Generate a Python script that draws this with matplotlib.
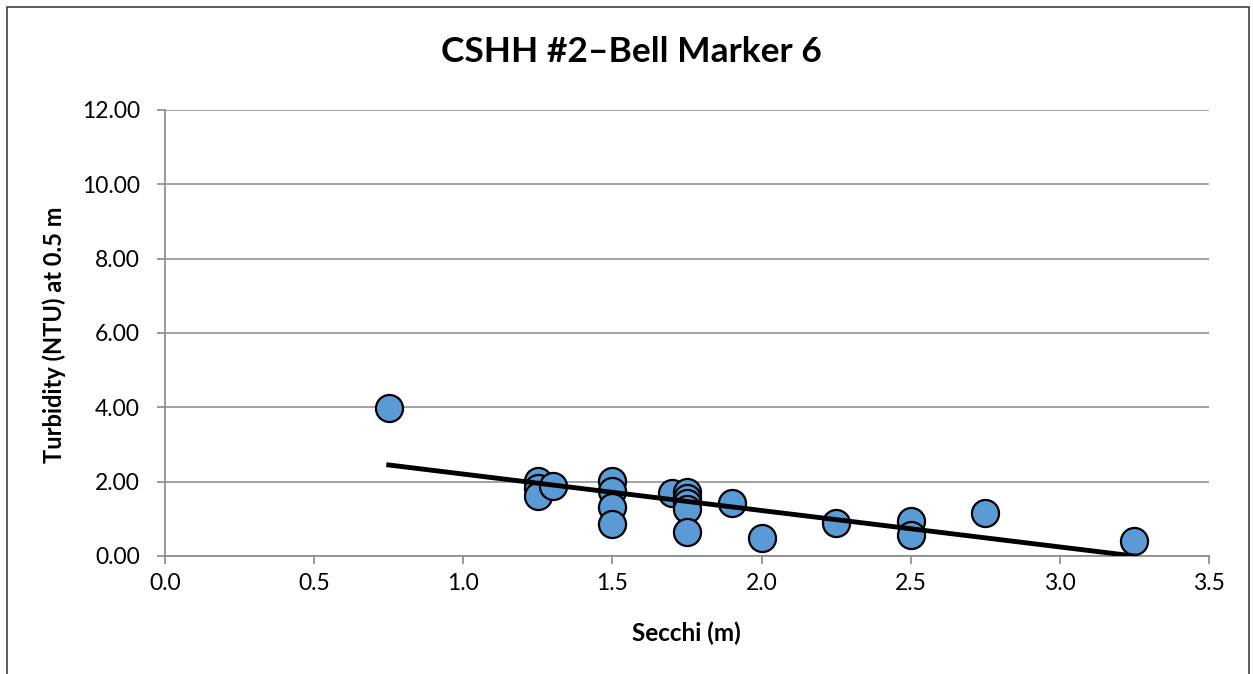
import numpy as np
import matplotlib
matplotlib.use('Agg')
import matplotlib.pyplot as plt
from matplotlib.patches import Rectangle

plt.rcParams['font.family'] = ['Lato', 'DejaVu Sans']

# Secchi depth (m) and turbidity (NTU)
secchi = [0.75, 1.25, 1.25, 1.25, 1.30, 1.50, 1.50, 1.50, 1.50, 1.70,
          1.75, 1.75, 1.75, 1.75, 1.75, 1.90, 2.00, 2.25, 2.50, 2.50,
          2.75, 3.25]
turbidity = [3.98, 2.02, 1.83, 1.61, 1.88, 2.02, 1.75, 1.32, 0.86, 1.69,
             1.72, 1.55, 1.42, 1.26, 0.65, 1.43, 0.48, 0.89, 0.94, 0.56,
             1.15, 0.41]

x_ticks = [0.0, 0.5, 1.0, 1.5, 2.0, 2.5, 3.0, 3.5]
y_ticks = [0, 2, 4, 6, 8, 10, 12]

fig = plt.figure(figsize=(12.53, 6.74), dpi=100)
ax = fig.add_axes([0.1317, 0.1751, 0.9649 - 0.1317, 0.8368 - 0.1751])

# outer chart border
fig.patches.append(Rectangle((7 / 1253, -0.01), 1242 / 1253, 1 - 7 / 674 + 0.01,
                             transform=fig.transFigure, fill=False,
                             edgecolor='#404040', linewidth=1.2))

ax.scatter(secchi, turbidity, s=380, color='#5B9BD5', edgecolor='black',
           linewidth=1.6, zorder=3)

# linear trendline
m, b = np.polyfit(secchi, turbidity, 1)
xs = np.array([min(secchi), max(secchi)])
ax.plot(xs, m * xs + b, color='black', linewidth=3.5, zorder=4)

ax.set_xlim(0, 3.5)
ax.set_ylim(0, 12)
ax.set_xticks(x_ticks)
ax.set_xticklabels(['{:.1f}'.format(v) for v in x_ticks])
ax.set_yticks(y_ticks)
ax.set_yticklabels(['{:.2f}'.format(v) for v in y_ticks])
ax.tick_params(labelsize=16.5, color='#898989', length=6, width=1.2)
ax.tick_params(axis='y', pad=12)
ax.tick_params(axis='x', pad=6)
ax.yaxis.grid(True, color='#898989', linewidth=1.1)
ax.set_axisbelow(True)
for s in ['top', 'right']:
    ax.spines[s].set_visible(False)
for s in ['left', 'bottom']:
    ax.spines[s].set_color('#898989')
    ax.spines[s].set_linewidth(1.2)

ax.set_xlabel('Secchi (m)', fontsize=17.5, fontweight='bold')
ax.set_ylabel('Turbidity (NTU) at 0.5 m', fontsize=17, fontweight='bold')
ax.xaxis.set_label_coords(0.499, -0.146)
ax.yaxis.set_label_coords(-0.095, 0.495)
fig.text(0.504, 0.923, 'CSHH #2\u2013Bell Marker 6', ha='center', va='center',
         fontsize=25.5, fontweight='bold')

fig.savefig('out.png', dpi=100)
